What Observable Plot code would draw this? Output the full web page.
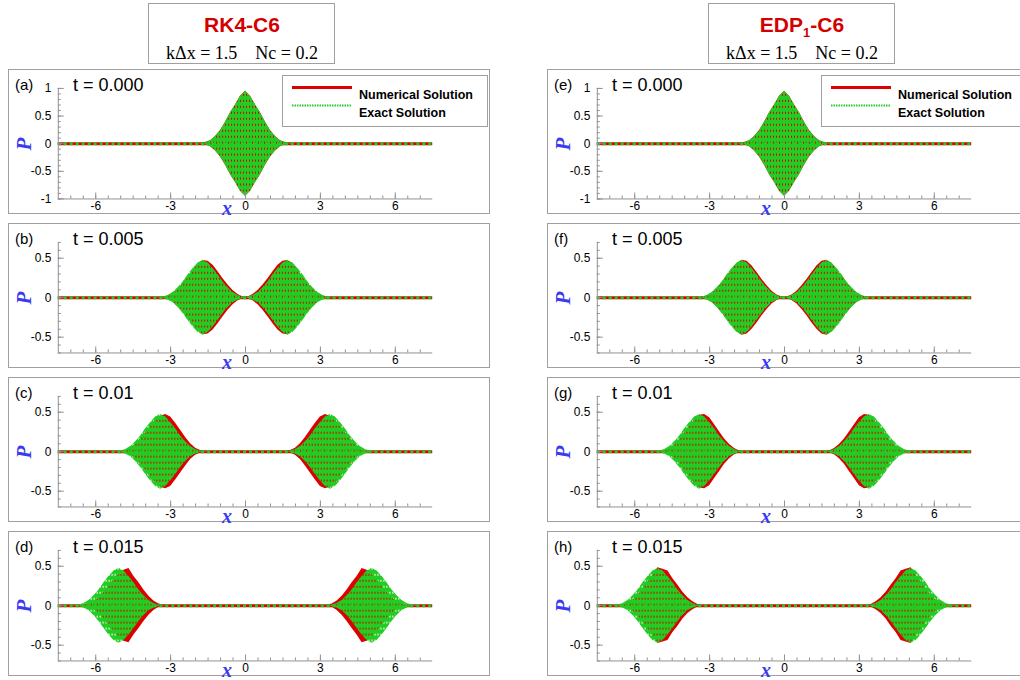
<!DOCTYPE html>
<html>
<head>
<meta charset="utf-8">
<script src="https://cdn.jsdelivr.net/npm/d3@7"></script>
<script src="https://cdn.jsdelivr.net/npm/@observablehq/plot@0.6"></script>
<style>
  html, body { margin: 0; padding: 0; background: #fff; overflow: hidden; }
  #fig { position: relative; width: 1020px; height: 680px; overflow: hidden; font-family: "Liberation Sans", Arial, sans-serif; }
  .box { position: absolute; border: 1px solid #a0a0a0; box-sizing: border-box; }
  .panel svg { position: absolute; left: 0; top: 0; overflow: visible; }
  .abs { position: absolute; white-space: pre; line-height: 1; }
  .tag { font-size: 15px; color: #000; }
  .time { font-size: 18px; color: #000; }
  .ylab, .xlab { font-family: "Liberation Serif", "Times New Roman", serif; font-weight: bold; font-style: italic; color: #3a3af0; font-size: 21px; }
  .ylab { transform: translate(-50%, -50%) rotate(-90deg); }
  .xlab { transform: translate(-50%, -50%); line-height: 0.6; font-size: 20px; }
  .legend { border: 1px solid #a0a0a0; background: #fff; box-sizing: border-box; }
  .legtext { font-size: 12.5px; font-weight: bold; color: #000; transform: translateY(-50%); }
  .title { font-size: 21px; font-weight: bold; color: #d40000; transform: translateX(-50%); }
  .title sub { font-size: 13px; vertical-align: -5px; line-height: 0; }
  .params { font-family: "Liberation Serif", "Times New Roman", serif; font-size: 18px; color: #000; transform: translateX(-50%); }
</style>
</head>
<body>
<div id="fig">
  <svg width="0" height="0" style="position:absolute">
    <defs>
      <!-- dotted "exact" stroke texture: green with short gaps -->
      <pattern id="exactFill" width="3" height="6" patternUnits="userSpaceOnUse">
        <rect x="0" y="0" width="1" height="6" fill="#22cc22"/>
        <rect x="2" y="0" width="1" height="6" fill="#22cc22"/>
        <rect x="1" y="2" width="1" height="4" fill="#22cc22"/>
      </pattern>
    </defs>
  </svg>
</div>
<script>
// ---- data ---------------------------------------------------------------
const tags = [["(a)", "(b)", "(c)", "(d)"], ["(e)", "(f)", "(g)", "(h)"]];
const times = ["0.000", "0.005", "0.01", "0.015"];
const xDomain = [-7.5, 7.5];
const xTicks = [-6, -3, 0, 3, 6];
const yDomains = [[-1, 1], [-0.7, 0.7], [-0.7, 0.7], [-0.7, 0.7]];
const yTicks = [[-1, -0.5, 0, 0.5, 1], [-0.5, 0, 0.5], [-0.5, 0, 0.5], [-0.5, 0, 0.5]];

// distance from each packet centre at which the envelope |P| is read
const offsets = [-2.0, -1.8, -1.6, -1.4, -1.2, -1.0, -0.8, -0.6, -0.4, -0.2, 0,
                  0.2, 0.4, 0.6, 0.8, 1.0, 1.2, 1.4, 1.6, 1.8, 2.0];
// centre of the right-travelling packet at each time (left one is its mirror)
const packetCenters = [0, 1.7, 3.4, 5.07];

// envelope of the initial pulse (t = 0, both schemes, exact and numerical)
const envInitial = [0, 0.005, 0.02, 0.055, 0.13, 0.24, 0.39, 0.56, 0.7, 0.86, 0.95,
                    0.86, 0.7, 0.56, 0.39, 0.24, 0.13, 0.055, 0.02, 0.005, 0];
// exact solution envelope of each travelling half-pulse (t > 0)
const envExact = [0, 0.003, 0.01, 0.028, 0.065, 0.125, 0.2, 0.29, 0.37, 0.44, 0.475,
                  0.44, 0.37, 0.29, 0.2, 0.125, 0.065, 0.028, 0.01, 0.003, 0];
// numerical envelopes (right-travelling packet; negative offset = toward x = 0)
const envRK4 = [
  envInitial,
  [0, 0, 0.01, 0.04, 0.09, 0.16, 0.24, 0.33, 0.41, 0.46, 0.47, 0.42, 0.35, 0.26, 0.18, 0.11, 0.055, 0.02, 0.005, 0, 0],
  [0, 0, 0.015, 0.045, 0.1, 0.18, 0.27, 0.36, 0.44, 0.47, 0.45, 0.4, 0.32, 0.24, 0.16, 0.09, 0.04, 0.01, 0, 0, 0],
  [0, 0.005, 0.02, 0.06, 0.12, 0.2, 0.29, 0.37, 0.47, 0.45, 0.4, 0.33, 0.25, 0.17, 0.1, 0.05, 0.02, 0.005, 0, 0, 0]
];
const envEDP = [
  envInitial,
  [0, 0, 0.008, 0.035, 0.08, 0.15, 0.23, 0.32, 0.4, 0.46, 0.475, 0.43, 0.36, 0.27, 0.19, 0.115, 0.06, 0.022, 0.006, 0, 0],
  [0, 0, 0.01, 0.04, 0.09, 0.16, 0.25, 0.34, 0.43, 0.47, 0.46, 0.4, 0.32, 0.24, 0.15, 0.085, 0.04, 0.012, 0, 0, 0],
  [0, 0, 0.015, 0.05, 0.1, 0.17, 0.26, 0.34, 0.44, 0.46, 0.48, 0.38, 0.3, 0.21, 0.13, 0.07, 0.03, 0.01, 0, 0, 0]
];

// ---- layout ----------------------------------------------------------------
const RED = "#dd0000", GREEN = "#22cc22", AXIS = "#909090";
const W = 482, H = 145, ML = 49, MR = 57, MT = 18, MB = 16;
const colLeft = [8, 547];
const rowTop = [69, 223, 377, 531];

const fig = document.getElementById("fig");

function packets(env, center) {
  const rows = [];
  offsets.forEach((o, i) => rows.push({x: center + o, a: env[i], p: "right"}));
  if (center !== 0) offsets.forEach((o, i) => rows.push({x: -(center + o), a: env[i], p: "left"}));
  return rows;
}

function addText(parent, cls, html, left, top) {
  const d = document.createElement("div");
  d.className = "abs " + cls;
  d.innerHTML = html;
  d.style.left = left + "px";
  d.style.top = top + "px";
  parent.appendChild(d);
  return d;
}

function panel(col, row) {
  const yd = yDomains[row];
  const numEnv = (col === 0 ? envRK4 : envEDP)[row];
  const exEnv = row === 0 ? envInitial : envExact;
  const numData = packets(numEnv, packetCenters[row]);
  const exData = packets(exEnv, packetCenters[row]);
  const yMinor = d3.range(Math.round(yd[0] * 10), Math.round(yd[1] * 10) + 1).map(v => v / 10);
  const xMinor = d3.range(-14, 15).map(v => v / 2);

  const chart = Plot.plot({
    width: W, height: H,
    marginLeft: ML, marginRight: MR, marginTop: MT, marginBottom: MB,
    x: {domain: xDomain},
    y: {domain: yd},
    style: {fontFamily: "'Liberation Sans', Arial, sans-serif", fontSize: "12px", background: "transparent", color: "#000"},
    marks: [
      // numerical solution: solid red
      Plot.areaY(numData, {x: "x", y1: d => -d.a, y2: d => d.a, z: "p", fill: RED}),
      Plot.ruleY([0], {stroke: RED, strokeWidth: 3}),
      // exact solution: dotted green
      Plot.areaY(exData, {x: "x", y1: d => -d.a, y2: d => d.a, z: "p", fill: "url(#exactFill)"}),
      Plot.ruleY([0], {stroke: GREEN, strokeWidth: 3, strokeDasharray: "3,3"}),
      // axis lines and inward ticks
      Plot.ruleX([xDomain[0]], {stroke: AXIS}),
      Plot.ruleY([yd[0]], {stroke: AXIS}),
      Plot.ruleX(xMinor, {x: d => d, y1: yd[0], y2: yd[0], insetTop: -3, stroke: AXIS}),
      Plot.ruleX(xTicks, {x: d => d, y1: yd[0], y2: yd[0], insetTop: -6, stroke: AXIS}),
      Plot.ruleY(yMinor, {y: d => d, x1: xDomain[0], x2: xDomain[0], insetRight: -3, stroke: AXIS}),
      Plot.ruleY(yTicks[row], {y: d => d, x1: xDomain[0], x2: xDomain[0], insetRight: -6, stroke: AXIS}),
      Plot.axisX({ticks: xTicks, tickSize: 0, tickPadding: 3, tickFormat: d => String(d), label: null}),
      Plot.axisY({ticks: yTicks[row], tickSize: 0, tickPadding: 7, tickFormat: d => String(d), label: null})
    ]
  });

  const box = document.createElement("div");
  box.className = "box panel";
  box.style.left = colLeft[col] + "px";
  box.style.top = rowTop[row] + "px";
  box.style.width = W + "px";
  box.style.height = H + "px";
  fig.appendChild(box);
  box.appendChild(chart);

  const zeroY = MT + (yd[1] / (yd[1] - yd[0])) * (H - MT - MB);
  const x0 = ML + (0 - xDomain[0]) / (xDomain[1] - xDomain[0]) * (W - ML - MR);
  addText(box, "tag", tags[col][row], 6, 7);
  addText(box, "time", "t = " + times[row], 64, 6);
  addText(box, "ylab", "P", 15, zeroY);
  addText(box, "xlab", "x", x0 - 19, H - MB + 9);

  if (row === 0) {
    const leg = document.createElement("div");
    leg.className = "abs legend";
    Object.assign(leg.style, {left: "273px", top: "5px", width: "206px", height: "52px"});
    box.appendChild(leg);
    const sw = Plot.plot({
      width: 60, height: 30, margin: 0,
      x: {domain: [0, 1]}, y: {domain: [0, 1]}, axis: null,
      style: {background: "transparent"},
      marks: [
        Plot.ruleY([0.8], {stroke: RED, strokeWidth: 3}),
        Plot.ruleY([0.2], {stroke: GREEN, strokeWidth: 2, strokeDasharray: "1.5,1"})
      ]
    });
    sw.style.left = "9px"; sw.style.top = "5px"; sw.style.position = "absolute";
    leg.appendChild(sw);
    addText(leg, "legtext", "Numerical Solution", 76, 19);
    addText(leg, "legtext", "Exact Solution", 76, 37);
  }
}

for (let c = 0; c < 2; c++) for (let r = 0; r < 4; r++) panel(c, r);

// headers above each column
const heads = [
  {left: 148, html: "RK4-C6"},
  {left: 708, html: "EDP<sub>1</sub>-C6"}
];
heads.forEach(h => {
  const b = document.createElement("div");
  b.className = "box";
  Object.assign(b.style, {left: h.left + "px", top: "3px", width: "187px", height: "61px"});
  fig.appendChild(b);
  addText(b, "title", h.html, 93, 10);
  addText(b, "params", "kΔx = 1.5    Nc = 0.2", 93, 40);
});
</script>
</body>
</html>
